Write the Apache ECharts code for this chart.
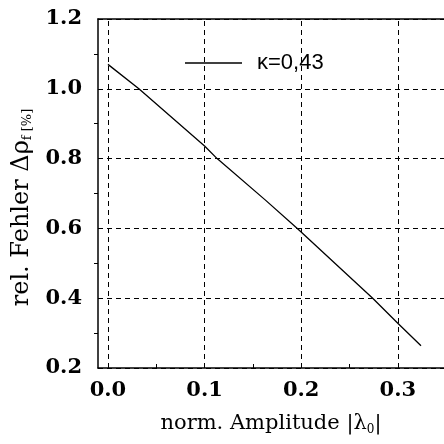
<!DOCTYPE html>
<html>
<head>
<meta charset="utf-8">
<script src="https://cdn.jsdelivr.net/npm/echarts@6/dist/echarts.min.js"></script>
<style>html,body{margin:0;padding:0;background:#fff}#c{width:444px;height:444px}</style>
</head>
<body>
<div id="c"></div>
<script>
// Data
var seriesName = 'κ=0,43';
var amplitude = [0.0, 0.032, 0.1, 0.113, 0.163, 0.196, 0.274, 0.3, 0.324];
var relError  = [1.07, 1.0, 0.836, 0.8, 0.681, 0.6, 0.4, 0.328, 0.264];
var xTickValues = [0.0, 0.1, 0.2, 0.3];
var xMinorTicks = [0.05, 0.15, 0.25];
var yTickValues = [0.2, 0.4, 0.6, 0.8, 1.0, 1.2];

var pts = amplitude.map(function (x, i) { return [x, relError[i]]; });
var serif = 'DejaVu Serif';
var chart = echarts.init(document.getElementById('c'), null, {renderer: 'canvas'});
var dash = {color: '#000', type: [5, 4], width: 1};
chart.setOption({
  animation: false,
  backgroundColor: '#fff',
  grid: {left: 98, top: 19, right: -2, bottom: 76},
  legend: {
    show: true, data: [seriesName], left: 185, top: 52, padding: 0,
    icon: 'rect', itemWidth: 57, itemHeight: 1.3,
    textStyle: {fontFamily: 'Liberation Sans', fontSize: 22, color: '#000', padding: [0, 0, 0, 10]}
  },
  xAxis: [{
    type: 'value', min: -0.0103, max: 0.3478,
    name: 'norm. Amplitude |{l|λ}{s|0}{l||}', nameLocation: 'middle', nameGap: 44,
    nameTextStyle: {fontFamily: serif, fontSize: 21, color: '#000',
      rich: {l: {fontFamily: serif, fontSize: 21, color: '#000'}, s: {fontFamily: serif, fontSize: 12, color: '#000', padding: [12, 0, 0, 0]}}},
    axisLine: {show: true, onZero: false, lineStyle: {color: '#000', width: 1.5}},
    axisTick: {show: true, inside: true, length: 4, customValues: xMinorTicks, lineStyle: {color: '#000'}},
    axisLabel: {customValues: xTickValues, formatter: function (v) { return v.toFixed(1); },
      fontFamily: serif, fontSize: 21, fontWeight: 'bold', color: '#000', margin: 12},
    splitLine: {show: false}
  }, {
    type: 'value', position: 'top', min: -0.0103, max: 0.3478,
    axisLine: {show: true, onZero: false, lineStyle: {color: '#000', width: 1.5}},
    axisTick: {show: false}, axisLabel: {show: false}, splitLine: {show: false}
  }],
  yAxis: {
    type: 'value', min: 0.2, max: 1.2, interval: 0.2,
    name: 'rel. Fehler Δρ{s|f [%]}', nameLocation: 'middle', nameGap: 58, nameRotate: 90,
    nameTextStyle: {fontFamily: serif, fontSize: 24, color: '#000', padding: [0, 28, 0, 0],
      rich: {s: {fontFamily: serif, fontSize: 13, color: '#000', padding: [13, 0, 0, 0]}}},
    axisLine: {show: true, onZero: false, lineStyle: {color: '#000', width: 1.5}},
    axisTick: {show: false},
    minorTick: {show: true, splitNumber: 2, length: 4, lineStyle: {color: '#000'}},
    axisLabel: {formatter: function (v) { return v.toFixed(1); }, fontFamily: serif, fontSize: 21, fontWeight: 'bold', color: '#000', margin: 16},
    splitLine: {show: true, lineStyle: dash}
  },
  series: [{
    name: seriesName, type: 'line', data: pts, symbol: 'none', smooth: false,
    lineStyle: {color: '#000', width: 1.3}, itemStyle: {color: '#000'},
    markLine: {
      silent: true, symbol: 'none', label: {show: false},
      lineStyle: dash,
      data: xTickValues.map(function (v) { return {xAxis: v}; })
    }
  }]
});
</script>
</body>
</html>
